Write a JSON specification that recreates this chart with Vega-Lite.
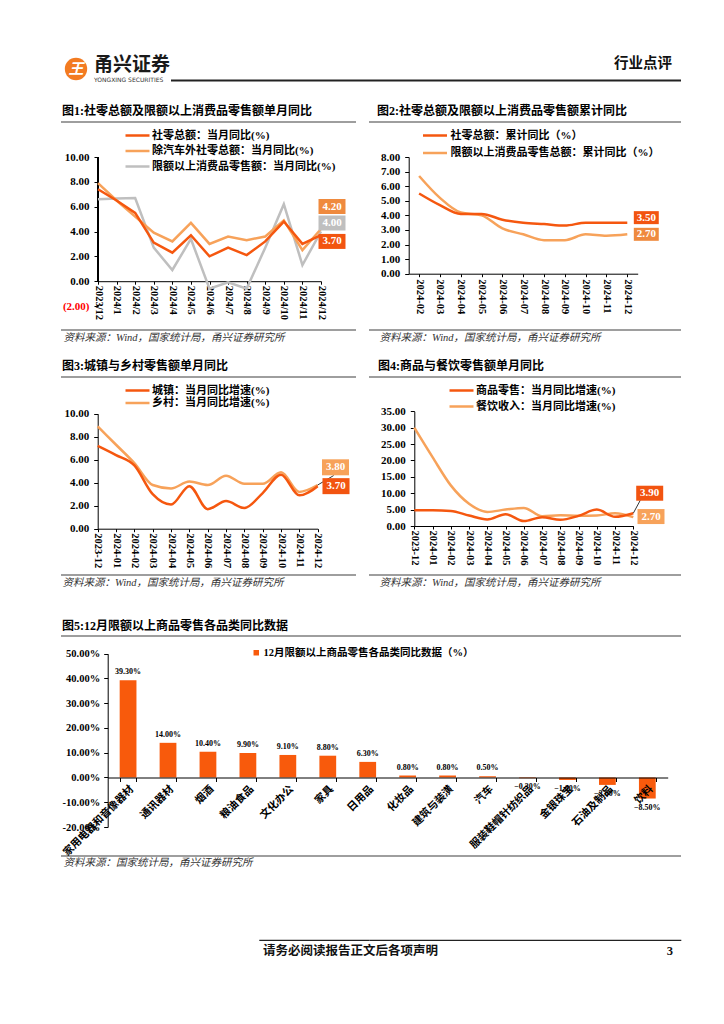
{
"$schema": "https://vega.github.io/schema/vega-lite/v6.json",
"padding": {"left": 60, "top": 50, "right": 20, "bottom": 20},
"background": "white",
"columns": 2,
"align": "each",
"bounds": "flush",
"spacing": {"row": 0, "column": 0},
"resolve": {"scale": {"color": "independent"}, "legend": {"color": "independent"}},
"config": {
  "font": "Liberation Serif, Noto Sans CJK SC",
  "view": {"stroke": null},
  "axis": {"grid": false, "domainColor": "#000", "tickColor": "#000", "labelColor": "#000", "labelFont": "Liberation Serif, Noto Sans CJK SC", "labelFontSize": 11, "labelFontWeight": "bold", "titleFont": "Liberation Serif, Noto Sans CJK SC"},
  "legend": {"labelFont": "Liberation Serif, Noto Sans CJK SC", "labelFontSize": 11, "labelFontWeight": "bold", "labelColor": "#000", "labelLimit": 400},
  "title": {"font": "Liberation Serif, Noto Sans CJK SC", "fontSize": 12, "fontWeight": "bold", "anchor": "start", "frame": "group", "color": "#000"}
},
"datasets": {
  "c1": [
    {"month":"2023/12","series":"限额以上消费品零售额：当月同比(%)","value":6.6},
    {"month":"2024/1","series":"限额以上消费品零售额：当月同比(%)","value":6.65},
    {"month":"2024/2","series":"限额以上消费品零售额：当月同比(%)","value":6.7},
    {"month":"2024/3","series":"限额以上消费品零售额：当月同比(%)","value":2.7},
    {"month":"2024/4","series":"限额以上消费品零售额：当月同比(%)","value":0.9},
    {"month":"2024/5","series":"限额以上消费品零售额：当月同比(%)","value":3.4},
    {"month":"2024/6","series":"限额以上消费品零售额：当月同比(%)","value":-0.6},
    {"month":"2024/7","series":"限额以上消费品零售额：当月同比(%)","value":-0.1},
    {"month":"2024/8","series":"限额以上消费品零售额：当月同比(%)","value":-0.6},
    {"month":"2024/9","series":"限额以上消费品零售额：当月同比(%)","value":2.7},
    {"month":"2024/10","series":"限额以上消费品零售额：当月同比(%)","value":6.2},
    {"month":"2024/11","series":"限额以上消费品零售额：当月同比(%)","value":1.3},
    {"month":"2024/12","series":"限额以上消费品零售额：当月同比(%)","value":4.0},
    {"month":"2023/12","series":"除汽车外社零总额：当月同比(%)","value":7.9},
    {"month":"2024/1","series":"除汽车外社零总额：当月同比(%)","value":6.5},
    {"month":"2024/2","series":"除汽车外社零总额：当月同比(%)","value":5.2},
    {"month":"2024/3","series":"除汽车外社零总额：当月同比(%)","value":3.9},
    {"month":"2024/4","series":"除汽车外社零总额：当月同比(%)","value":3.2},
    {"month":"2024/5","series":"除汽车外社零总额：当月同比(%)","value":4.7},
    {"month":"2024/6","series":"除汽车外社零总额：当月同比(%)","value":3.0},
    {"month":"2024/7","series":"除汽车外社零总额：当月同比(%)","value":3.6},
    {"month":"2024/8","series":"除汽车外社零总额：当月同比(%)","value":3.3},
    {"month":"2024/9","series":"除汽车外社零总额：当月同比(%)","value":3.6},
    {"month":"2024/10","series":"除汽车外社零总额：当月同比(%)","value":4.9},
    {"month":"2024/11","series":"除汽车外社零总额：当月同比(%)","value":2.5},
    {"month":"2024/12","series":"除汽车外社零总额：当月同比(%)","value":4.2},
    {"month":"2023/12","series":"社零总额：当月同比(%)","value":7.4},
    {"month":"2024/1","series":"社零总额：当月同比(%)","value":6.5},
    {"month":"2024/2","series":"社零总额：当月同比(%)","value":5.5},
    {"month":"2024/3","series":"社零总额：当月同比(%)","value":3.1},
    {"month":"2024/4","series":"社零总额：当月同比(%)","value":2.3},
    {"month":"2024/5","series":"社零总额：当月同比(%)","value":3.7},
    {"month":"2024/6","series":"社零总额：当月同比(%)","value":2.0},
    {"month":"2024/7","series":"社零总额：当月同比(%)","value":2.7},
    {"month":"2024/8","series":"社零总额：当月同比(%)","value":2.1},
    {"month":"2024/9","series":"社零总额：当月同比(%)","value":3.2},
    {"month":"2024/10","series":"社零总额：当月同比(%)","value":4.8},
    {"month":"2024/11","series":"社零总额：当月同比(%)","value":3.0},
    {"month":"2024/12","series":"社零总额：当月同比(%)","value":3.7}
  ],
  "c2": [
    {"month":"2024-02","series":"限额以上消费品零售总额：累计同比（%）","value":6.7},
    {"month":"2024-03","series":"限额以上消费品零售总额：累计同比（%）","value":5.2},
    {"month":"2024-04","series":"限额以上消费品零售总额：累计同比（%）","value":4.2},
    {"month":"2024-05","series":"限额以上消费品零售总额：累计同比（%）","value":4.0},
    {"month":"2024-06","series":"限额以上消费品零售总额：累计同比（%）","value":3.1},
    {"month":"2024-07","series":"限额以上消费品零售总额：累计同比（%）","value":2.7},
    {"month":"2024-08","series":"限额以上消费品零售总额：累计同比（%）","value":2.3},
    {"month":"2024-09","series":"限额以上消费品零售总额：累计同比（%）","value":2.3},
    {"month":"2024-10","series":"限额以上消费品零售总额：累计同比（%）","value":2.7},
    {"month":"2024-11","series":"限额以上消费品零售总额：累计同比（%）","value":2.6},
    {"month":"2024-12","series":"限额以上消费品零售总额：累计同比（%）","value":2.7},
    {"month":"2024-02","series":"社零总额：累计同比（%）","value":5.5},
    {"month":"2024-03","series":"社零总额：累计同比（%）","value":4.7},
    {"month":"2024-04","series":"社零总额：累计同比（%）","value":4.1},
    {"month":"2024-05","series":"社零总额：累计同比（%）","value":4.1},
    {"month":"2024-06","series":"社零总额：累计同比（%）","value":3.7},
    {"month":"2024-07","series":"社零总额：累计同比（%）","value":3.5},
    {"month":"2024-08","series":"社零总额：累计同比（%）","value":3.4},
    {"month":"2024-09","series":"社零总额：累计同比（%）","value":3.3},
    {"month":"2024-10","series":"社零总额：累计同比（%）","value":3.5},
    {"month":"2024-11","series":"社零总额：累计同比（%）","value":3.5},
    {"month":"2024-12","series":"社零总额：累计同比（%）","value":3.5}
  ],
  "c3": [
    {"month":"2023-12","series":"乡村：当月同比增速(%)","value":8.9},
    {"month":"2024-01","series":"乡村：当月同比增速(%)","value":7.3},
    {"month":"2024-02","series":"乡村：当月同比增速(%)","value":5.7},
    {"month":"2024-03","series":"乡村：当月同比增速(%)","value":3.8},
    {"month":"2024-04","series":"乡村：当月同比增速(%)","value":3.5},
    {"month":"2024-05","series":"乡村：当月同比增速(%)","value":4.1},
    {"month":"2024-06","series":"乡村：当月同比增速(%)","value":3.8},
    {"month":"2024-07","series":"乡村：当月同比增速(%)","value":4.6},
    {"month":"2024-08","series":"乡村：当月同比增速(%)","value":3.9},
    {"month":"2024-09","series":"乡村：当月同比增速(%)","value":3.9},
    {"month":"2024-10","series":"乡村：当月同比增速(%)","value":4.9},
    {"month":"2024-11","series":"乡村：当月同比增速(%)","value":3.2},
    {"month":"2024-12","series":"乡村：当月同比增速(%)","value":3.8},
    {"month":"2023-12","series":"城镇：当月同比增速(%)","value":7.2},
    {"month":"2024-01","series":"城镇：当月同比增速(%)","value":6.4},
    {"month":"2024-02","series":"城镇：当月同比增速(%)","value":5.5},
    {"month":"2024-03","series":"城镇：当月同比增速(%)","value":3.0},
    {"month":"2024-04","series":"城镇：当月同比增速(%)","value":2.1},
    {"month":"2024-05","series":"城镇：当月同比增速(%)","value":3.7},
    {"month":"2024-06","series":"城镇：当月同比增速(%)","value":1.7},
    {"month":"2024-07","series":"城镇：当月同比增速(%)","value":2.4},
    {"month":"2024-08","series":"城镇：当月同比增速(%)","value":1.8},
    {"month":"2024-09","series":"城镇：当月同比增速(%)","value":3.1},
    {"month":"2024-10","series":"城镇：当月同比增速(%)","value":4.7},
    {"month":"2024-11","series":"城镇：当月同比增速(%)","value":2.9},
    {"month":"2024-12","series":"城镇：当月同比增速(%)","value":3.7}
  ],
  "c4": [
    {"month":"2023-12","series":"餐饮收入：当月同比增速(%)","value":30.0},
    {"month":"2024-01","series":"餐饮收入：当月同比增速(%)","value":21.0},
    {"month":"2024-02","series":"餐饮收入：当月同比增速(%)","value":12.4},
    {"month":"2024-03","series":"餐饮收入：当月同比增速(%)","value":6.8},
    {"month":"2024-04","series":"餐饮收入：当月同比增速(%)","value":4.3},
    {"month":"2024-05","series":"餐饮收入：当月同比增速(%)","value":5.0},
    {"month":"2024-06","series":"餐饮收入：当月同比增速(%)","value":5.5},
    {"month":"2024-07","series":"餐饮收入：当月同比增速(%)","value":3.0},
    {"month":"2024-08","series":"餐饮收入：当月同比增速(%)","value":3.3},
    {"month":"2024-09","series":"餐饮收入：当月同比增速(%)","value":3.1},
    {"month":"2024-10","series":"餐饮收入：当月同比增速(%)","value":3.2},
    {"month":"2024-11","series":"餐饮收入：当月同比增速(%)","value":3.9},
    {"month":"2024-12","series":"餐饮收入：当月同比增速(%)","value":2.7},
    {"month":"2023-12","series":"商品零售：当月同比增速(%)","value":4.8},
    {"month":"2024-01","series":"商品零售：当月同比增速(%)","value":4.8},
    {"month":"2024-02","series":"商品零售：当月同比增速(%)","value":4.6},
    {"month":"2024-03","series":"商品零售：当月同比增速(%)","value":3.2},
    {"month":"2024-04","series":"商品零售：当月同比增速(%)","value":2.0},
    {"month":"2024-05","series":"商品零售：当月同比增速(%)","value":3.6},
    {"month":"2024-06","series":"商品零售：当月同比增速(%)","value":1.5},
    {"month":"2024-07","series":"商品零售：当月同比增速(%)","value":2.7},
    {"month":"2024-08","series":"商品零售：当月同比增速(%)","value":1.9},
    {"month":"2024-09","series":"商品零售：当月同比增速(%)","value":3.1},
    {"month":"2024-10","series":"商品零售：当月同比增速(%)","value":5.0},
    {"month":"2024-11","series":"商品零售：当月同比增速(%)","value":2.8},
    {"month":"2024-12","series":"商品零售：当月同比增速(%)","value":3.9}
  ],
  "c5": [
    {"category":"家用电器和音像器材","yoy":0.393},
    {"category":"通讯器材","yoy":0.14},
    {"category":"烟酒","yoy":0.104},
    {"category":"粮油食品","yoy":0.099},
    {"category":"文化办公","yoy":0.091},
    {"category":"家具","yoy":0.088},
    {"category":"日用品","yoy":0.063},
    {"category":"化妆品","yoy":0.008},
    {"category":"建筑与装潢","yoy":0.008},
    {"category":"汽车","yoy":0.005},
    {"category":"服装鞋帽针纺织品","yoy":-0.003},
    {"category":"金银珠宝","yoy":-0.01},
    {"category":"石油及制品","yoy":-0.03},
    {"category":"饮料","yoy":-0.085}
  ]
},
"concat": [
  {
    "width": 308, "height": 29.5,
    "view": {"stroke": "#222", "strokeWidth": 2, "strokeDash": [0, 337.5, 198, 1000]},
    "data": {"values": [{"brand": "甬兴证券", "en": "YONGXING SECURITIES", "icon": "王"}]},
    "layer": [
      {"mark": {"type": "point", "shape": "circle", "filled": true, "opacity": 1, "color": "#F37B21", "size": 500}, "encoding": {"x": {"value": 15}, "y": {"value": 18}}},
      {"mark": {"type": "text", "color": "white", "fontSize": 15, "fontWeight": "bold", "fontStyle": "italic", "font": "Noto Sans CJK SC", "baseline": "middle", "align": "center"}, "encoding": {"text": {"field": "icon"}, "x": {"value": 15}, "y": {"value": 18}}},
      {"mark": {"type": "text", "color": "#1a1a1a", "fontSize": 19, "fontWeight": "bold", "font": "Noto Sans CJK SC", "baseline": "middle", "align": "left"}, "encoding": {"text": {"field": "brand"}, "x": {"value": 33}, "y": {"value": 14}}},
      {"mark": {"type": "text", "color": "#333", "fontSize": 6, "font": "DejaVu Sans", "baseline": "middle", "align": "left"}, "encoding": {"text": {"field": "en"}, "x": {"value": 33}, "y": {"value": 28.5}}}
    ]
  },
  {
    "width": 312, "height": 29.5,
    "view": {"stroke": "#222", "strokeWidth": 2, "strokeDash": [0, 341.5, 312, 1000]},
    "data": {"values": [{"t": "行业点评"}]},
    "mark": {"type": "text", "align": "right", "baseline": "middle", "fontSize": 14.5, "fontWeight": "bold", "font": "Noto Sans CJK SC", "color": "#111"},
    "encoding": {"text": {"field": "t"}, "x": {"value": 303}, "y": {"value": 13}}
  },
  {"width": 308, "height": 40.5, "data": {"values": []}, "mark": "point"},
  {"width": 312, "height": 40.5, "data": {"values": []}, "mark": "point"},
  {
    "width": 308, "height": 208,
    "view": {"stroke": "#7f7f7f", "strokeWidth": 1.5, "strokeDash": [295, 234, 295, 208]},
    "title": {"text": "图1:社零总额及限额以上消费品零售额单月同比", "offset": 4, "dx": 1},
    "data": {"name": "c1"},
    "encoding": {
      "x": {"field": "month", "type": "ordinal",
        "scale": {"type": "point", "domain": ["2023/12","2024/1","2024/2","2024/3","2024/4","2024/5","2024/6","2024/7","2024/8","2024/9","2024/10","2024/11","2024/12"], "range": [37, 260], "padding": 0},
        "axis": {"offset": -48.8, "labelAngle": 90, "labelFontSize": 10.5, "labelPadding": 1, "tickSize": 3,
          "title": "资料来源：Wind，国家统计局，甬兴证券研究所", "titleX": 2, "titleY": 56, "titleAlign": "left", "titleBaseline": "middle", "titleAngle": 0, "titleFontStyle": "italic", "titleFontWeight": "normal", "titleFontSize": 10.5, "titleColor": "#333"}},
      "y": {"field": "value", "type": "quantitative",
        "scale": {"domain": [-2, 10], "range": [184, 35], "nice": false, "zero": false},
        "axis": {"values": [-2, 0, 2, 4, 6, 8, 10], "offset": -37, "domain": false, "tickSize": 4, "labelPadding": 5, "title": null,
          "labelExpr": "datum.value < 0 ? '(' + format(-datum.value, '.2f') + ')' : format(datum.value, '.2f')",
          "labelColor": {"condition": {"test": "datum.value < 0", "value": "#ff0000"}, "value": "#000000"}}}
    },
    "layer": [
      {"mark": {"type": "rule", "color": "#000", "strokeWidth": 1}, "encoding": {"x": {"datum": "2023/12", "type": "ordinal"}, "y": {"datum": 0, "type": "quantitative"}, "y2": {"datum": 10}}},
      {"mark": {"type": "line", "strokeWidth": 2.5}, "encoding": {"color": {"field": "series", "type": "nominal",
        "scale": {"domain": ["社零总额：当月同比(%)", "除汽车外社零总额：当月同比(%)", "限额以上消费品零售额：当月同比(%)"], "range": ["#F5570F", "#F7A25A", "#BFBFBF"]},
        "legend": {"orient": "none", "legendX": 71, "legendY": 8, "title": null, "symbolType": "M-3,0H3", "symbolSize": 64, "symbolStrokeWidth": 2.5, "rowPadding": 3.5, "labelOffset": 9}}}},
      {"transform": [{"filter": "datum.month === '2024/12' && datum.series === '除汽车外社零总额：当月同比(%)'"}], "mark": {"type": "point", "shape": "M-1.8,-1H1.8V1H-1.8Z", "size": 225, "filled": true, "opacity": 1, "color": "#EF8A3E", "xOffset": 11, "yOffset": -22.5}},
      {"transform": [{"filter": "datum.month === '2024/12' && datum.series === '除汽车外社零总额：当月同比(%)'"}], "mark": {"type": "text", "color": "white", "fontSize": 11, "fontWeight": "bold", "baseline": "middle", "xOffset": 11, "yOffset": -22.5}, "encoding": {"text": {"field": "value", "format": ".2f"}}},
      {"transform": [{"filter": "datum.month === '2024/12' && datum.series === '限额以上消费品零售额：当月同比(%)'"}], "mark": {"type": "point", "shape": "M-1.8,-1H1.8V1H-1.8Z", "size": 225, "filled": true, "opacity": 1, "color": "#BFBFBF", "xOffset": 11, "yOffset": -8.5}},
      {"transform": [{"filter": "datum.month === '2024/12' && datum.series === '限额以上消费品零售额：当月同比(%)'"}], "mark": {"type": "text", "color": "white", "fontSize": 11, "fontWeight": "bold", "baseline": "middle", "xOffset": 11, "yOffset": -8.5}, "encoding": {"text": {"field": "value", "format": ".2f"}}},
      {"transform": [{"filter": "datum.month === '2024/12' && datum.series === '社零总额：当月同比(%)'"}], "mark": {"type": "point", "shape": "M-1.8,-1H1.8V1H-1.8Z", "size": 225, "filled": true, "opacity": 1, "color": "#F25410", "xOffset": 11, "yOffset": 6.2}},
      {"transform": [{"filter": "datum.month === '2024/12' && datum.series === '社零总额：当月同比(%)'"}], "mark": {"type": "text", "color": "white", "fontSize": 11, "fontWeight": "bold", "baseline": "middle", "xOffset": 11, "yOffset": 6.2}, "encoding": {"text": {"field": "value", "format": ".2f"}}}
    ]
  },
  {
    "width": 312, "height": 208,
    "view": {"stroke": "#7f7f7f", "strokeWidth": 1.5, "strokeDash": [312, 208, 312, 208]},
    "title": {"text": "图2:社零总额及限额以上消费品零售额累计同比", "offset": 4, "dx": 8},
    "data": {"name": "c2"},
    "encoding": {
      "x": {"field": "month", "type": "ordinal",
        "scale": {"type": "point", "domain": ["2024-02","2024-03","2024-04","2024-05","2024-06","2024-07","2024-08","2024-09","2024-10","2024-11","2024-12"], "range": [39.7, 268.7], "padding": 0.5},
        "axis": {"offset": -56.3, "labelAngle": 90, "labelFontSize": 10.5, "labelPadding": 2, "tickSize": 3,
          "title": "资料来源：Wind，国家统计局，甬兴证券研究所", "titleX": 10, "titleY": 63.3, "titleAlign": "left", "titleBaseline": "middle", "titleAngle": 0, "titleFontStyle": "italic", "titleFontWeight": "normal", "titleFontSize": 10.5, "titleColor": "#333"}},
      "y": {"field": "value", "type": "quantitative",
        "scale": {"domain": [0, 8], "range": [151.7, 35], "nice": false, "zero": false},
        "axis": {"values": [0, 1, 2, 3, 4, 5, 6, 7, 8], "format": ".2f", "offset": -39.7, "tickSize": 4, "labelPadding": 5, "title": null}}
    },
    "layer": [
      {"mark": {"type": "line", "strokeWidth": 2.5, "interpolate": "monotone"}, "encoding": {"color": {"field": "series", "type": "nominal",
        "scale": {"domain": ["社零总额：累计同比（%）", "限额以上消费品零售总额：累计同比（%）"], "range": ["#F5570F", "#F7A25A"]},
        "legend": {"orient": "none", "legendX": 60.5, "legendY": 8, "title": null, "symbolType": "M-3,0H3", "symbolSize": 64, "symbolStrokeWidth": 2.5, "rowPadding": 5.5, "labelOffset": 10}}}},
      {"transform": [{"filter": "datum.month === '2024-12' && datum.series === '社零总额：累计同比（%）'"}], "mark": {"type": "point", "shape": "M-1.92,-1H1.92V1H-1.92Z", "size": 169, "filled": true, "opacity": 1, "color": "#F25410", "xOffset": 19, "yOffset": -5}},
      {"transform": [{"filter": "datum.month === '2024-12' && datum.series === '社零总额：累计同比（%）'"}], "mark": {"type": "text", "color": "white", "fontSize": 11, "fontWeight": "bold", "baseline": "middle", "xOffset": 19, "yOffset": -5}, "encoding": {"text": {"field": "value", "format": ".2f"}}},
      {"transform": [{"filter": "datum.month === '2024-12' && datum.series === '限额以上消费品零售总额：累计同比（%）'"}], "mark": {"type": "point", "shape": "M-1.92,-1H1.92V1H-1.92Z", "size": 169, "filled": true, "opacity": 1, "color": "#EF8A3E", "xOffset": 19, "yOffset": 0}},
      {"transform": [{"filter": "datum.month === '2024-12' && datum.series === '限额以上消费品零售总额：累计同比（%）'"}], "mark": {"type": "text", "color": "white", "fontSize": 11, "fontWeight": "bold", "baseline": "middle", "xOffset": 19, "yOffset": 0}, "encoding": {"text": {"field": "value", "format": ".2f"}}}
    ]
  },
  {"width": 308, "height": 47, "data": {"values": []}, "mark": "point"},
  {"width": 312, "height": 47, "data": {"values": []}, "mark": "point"},
  {
    "width": 308, "height": 198,
    "view": {"stroke": "#7f7f7f", "strokeWidth": 1.5, "strokeDash": [295, 224, 295, 198]},
    "title": {"text": "图3:城镇与乡村零售额单月同比", "offset": 4, "dx": 1},
    "data": {"name": "c3"},
    "encoding": {
      "x": {"field": "month", "type": "ordinal",
        "scale": {"type": "point", "domain": ["2023-12","2024-01","2024-02","2024-03","2024-04","2024-05","2024-06","2024-07","2024-08","2024-09","2024-10","2024-11","2024-12"], "range": [36.7, 256.7], "padding": 0},
        "axis": {"offset": -46.3, "labelAngle": 90, "labelFontSize": 10.5, "labelPadding": 1, "tickSize": 3,
          "title": "资料来源：Wind，国家统计局，甬兴证券研究所", "titleX": 1, "titleY": 53.3, "titleAlign": "left", "titleBaseline": "middle", "titleAngle": 0, "titleFontStyle": "italic", "titleFontWeight": "normal", "titleFontSize": 10.5, "titleColor": "#333"}},
      "y": {"field": "value", "type": "quantitative",
        "scale": {"domain": [0, 10], "range": [151.7, 36.7], "nice": false, "zero": false},
        "axis": {"values": [0, 2, 4, 6, 8, 10], "format": ".2f", "offset": -36.7, "tickSize": 4, "labelPadding": 5, "title": null}}
    },
    "layer": [
      {"mark": {"type": "line", "strokeWidth": 2.5, "interpolate": "monotone"}, "encoding": {"color": {"field": "series", "type": "nominal",
        "scale": {"domain": ["城镇：当月同比增速(%)", "乡村：当月同比增速(%)"], "range": ["#F5570F", "#F7A25A"]},
        "legend": {"orient": "none", "legendX": 71, "legendY": 8, "title": null, "symbolType": "M-3,0H3", "symbolSize": 64, "symbolStrokeWidth": 2.5, "rowPadding": 0.5, "labelOffset": 9}}}},
      {"transform": [{"filter": "datum.month === '2024-12' && datum.series === '乡村：当月同比增速(%)'"}], "mark": {"type": "rule", "color": "#000", "strokeWidth": 0.8, "x2Offset": 16, "y2Offset": -9.5}, "encoding": {"x2": {"field": "month"}, "y2": {"field": "value"}}},
      {"transform": [{"filter": "datum.month === '2024-12' && datum.series === '乡村：当月同比增速(%)'"}], "mark": {"type": "point", "shape": "M-1.69,-1H1.69V1H-1.69Z", "size": 256, "filled": true, "opacity": 1, "color": "#F7A25A", "xOffset": 17.8, "yOffset": -17.7}},
      {"transform": [{"filter": "datum.month === '2024-12' && datum.series === '乡村：当月同比增速(%)'"}], "mark": {"type": "text", "color": "white", "fontSize": 11, "fontWeight": "bold", "baseline": "middle", "xOffset": 17.8, "yOffset": -17.7}, "encoding": {"text": {"field": "value", "format": ".2f"}}},
      {"transform": [{"filter": "datum.month === '2024-12' && datum.series === '城镇：当月同比增速(%)'"}], "mark": {"type": "point", "shape": "M-1.69,-1H1.69V1H-1.69Z", "size": 256, "filled": true, "opacity": 1, "color": "#F25410", "xOffset": 18.3, "yOffset": 0}},
      {"transform": [{"filter": "datum.month === '2024-12' && datum.series === '城镇：当月同比增速(%)'"}], "mark": {"type": "text", "color": "white", "fontSize": 11, "fontWeight": "bold", "baseline": "middle", "xOffset": 18.3, "yOffset": 0}, "encoding": {"text": {"field": "value", "format": ".2f"}}}
    ]
  },
  {
    "width": 312, "height": 198,
    "view": {"stroke": "#7f7f7f", "strokeWidth": 1.5, "strokeDash": [312, 198, 312, 198]},
    "title": {"text": "图4:商品与餐饮零售额单月同比", "offset": 4, "dx": 9},
    "data": {"name": "c4"},
    "encoding": {
      "x": {"field": "month", "type": "ordinal",
        "scale": {"type": "point", "domain": ["2023-12","2024-01","2024-02","2024-03","2024-04","2024-05","2024-06","2024-07","2024-08","2024-09","2024-10","2024-11","2024-12"], "range": [45.3, 264.3], "padding": 0},
        "axis": {"offset": -49, "labelAngle": 90, "labelFontSize": 10.5, "labelPadding": 1, "tickSize": 3,
          "title": "资料来源：Wind，国家统计局，甬兴证券研究所", "titleX": 10, "titleY": 56, "titleAlign": "left", "titleBaseline": "middle", "titleAngle": 0, "titleFontStyle": "italic", "titleFontWeight": "normal", "titleFontSize": 10.5, "titleColor": "#333"}},
      "y": {"field": "value", "type": "quantitative",
        "scale": {"domain": [0, 35], "range": [149, 34.3], "nice": false, "zero": false},
        "axis": {"values": [0, 5, 10, 15, 20, 25, 30, 35], "format": ".2f", "offset": -45.3, "tickSize": 4, "labelPadding": 5, "title": null}}
    },
    "layer": [
      {"mark": {"type": "line", "strokeWidth": 2.5, "interpolate": "monotone"}, "encoding": {"color": {"field": "series", "type": "nominal",
        "scale": {"domain": ["商品零售：当月同比增速(%)", "餐饮收入：当月同比增速(%)"], "range": ["#F5570F", "#F7A25A"]},
        "legend": {"orient": "none", "legendX": 87, "legendY": 8, "title": null, "symbolType": "M-3,0H3", "symbolSize": 64, "symbolStrokeWidth": 2.5, "rowPadding": 4, "labelOffset": 9}}}},
      {"transform": [{"filter": "datum.month === '2024-12' && datum.series === '商品零售：当月同比增速(%)'"}], "mark": {"type": "rule", "color": "#000", "strokeWidth": 0.8, "x2Offset": 7, "y2Offset": -13}, "encoding": {"x2": {"field": "month"}, "y2": {"field": "value"}}},
      {"transform": [{"filter": "datum.month === '2024-12' && datum.series === '商品零售：当月同比增速(%)'"}], "mark": {"type": "point", "shape": "M-1.8,-1H1.8V1H-1.8Z", "size": 225, "filled": true, "opacity": 1, "color": "#F25410", "xOffset": 16.4, "yOffset": -20}},
      {"transform": [{"filter": "datum.month === '2024-12' && datum.series === '商品零售：当月同比增速(%)'"}], "mark": {"type": "text", "color": "white", "fontSize": 11, "fontWeight": "bold", "baseline": "middle", "xOffset": 16.4, "yOffset": -20}, "encoding": {"text": {"field": "value", "format": ".2f"}}},
      {"transform": [{"filter": "datum.month === '2024-12' && datum.series === '餐饮收入：当月同比增速(%)'"}], "mark": {"type": "point", "shape": "M-1.8,-1H1.8V1H-1.8Z", "size": 225, "filled": true, "opacity": 1, "color": "#F7A25A", "xOffset": 17.7, "yOffset": -0.6}},
      {"transform": [{"filter": "datum.month === '2024-12' && datum.series === '餐饮收入：当月同比增速(%)'"}], "mark": {"type": "text", "color": "white", "fontSize": 11, "fontWeight": "bold", "baseline": "middle", "xOffset": 17.7, "yOffset": -0.6}, "encoding": {"text": {"field": "value", "format": ".2f"}}}
    ]
  },
  {"width": 308, "height": 61, "data": {"values": []}, "mark": "point"},
  {"width": 312, "height": 61, "data": {"values": []}, "mark": "point"},
  {
    "width": 308, "height": 220,
    "view": {"stroke": "#7f7f7f", "strokeWidth": 1.5, "strokeDash": [308, 220, 308, 220]},
    "title": {"text": "图5:12月限额以上商品零售各品类同比数据", "offset": 3, "dx": 1},
    "data": {"name": "c5"},
    "encoding": {
      "x": {"field": "category", "type": "nominal",
        "scale": {"type": "band", "domain": ["家用电器和音像器材","通讯器材","烟酒","粮油食品","文化办公","家具","日用品","化妆品","建筑与装潢","汽车","服装鞋帽针纺织品","金银珠宝","石油及制品","饮料"], "range": [46.7, 606.7], "paddingInner": 0.58, "paddingOuter": 0.3},
        "axis": {"offset": -78.5, "zindex": 1, "labelAngle": -45, "labelFontSize": 10.5, "labelFont": "Noto Sans CJK SC", "labelFontWeight": "bold", "tickBand": "extent", "tickSize": 4, "labelPadding": 2,
          "title": "资料来源：国家统计局，甬兴证券研究所", "titleX": 2, "titleY": 85, "titleAlign": "left", "titleBaseline": "middle", "titleAngle": 0, "titleFontStyle": "italic", "titleFontWeight": "normal", "titleFontSize": 10.5, "titleColor": "#333"}},
      "y": {"field": "yoy", "type": "quantitative",
        "scale": {"domain": [-0.2, 0.5], "range": [191, 17.7], "nice": false},
        "axis": {"values": [-0.2, -0.1, 0, 0.1, 0.2, 0.3, 0.4, 0.5], "labelExpr": "replace(format(datum.value, '.2%'), '\u2212', '-')", "offset": -46.7, "tickSize": 4, "labelPadding": 4, "labelFontSize": 10.5, "title": null}}
    },
    "layer": [
      {"mark": {"type": "bar", "color": "#F85A0C"}, "encoding": {"y2": {"datum": 0},
        "color": {"datum": "12月限额以上商品零售各品类同比数据（%）", "scale": {"range": ["#F85A0C"]},
          "legend": {"orient": "none", "legendX": 190, "legendY": 11.5, "title": null, "symbolType": "square", "symbolSize": 30, "symbolStrokeWidth": 0, "labelFontSize": 10.5, "labelOffset": 2}}}},
      {"transform": [{"filter": "datum.yoy >= 0"}], "mark": {"type": "text", "dy": -8, "fontSize": 8, "fontWeight": "bold", "color": "#000"}, "encoding": {"text": {"field": "yoy", "format": ".2%"}}},
      {"transform": [{"filter": "datum.yoy < 0"}], "mark": {"type": "text", "dy": 9, "fontSize": 8, "fontWeight": "bold", "color": "#000"}, "encoding": {"text": {"field": "yoy", "format": ".2%"}}}
    ]
  },
  {"width": 312, "height": 220, "view": {"stroke": "#7f7f7f", "strokeWidth": 1.5, "strokeDash": [312, 220, 312, 220]}, "data": {"values": []}, "mark": "point"},
  {
    "width": 308, "height": 84,
    "view": {"stroke": "#222", "strokeWidth": 1.2, "strokeDash": [0, 392, 110, 1000]},
    "data": {"values": [{"t": "请务必阅读报告正文后各项声明"}]},
    "mark": {"type": "text", "align": "left", "baseline": "middle", "fontSize": 12.5, "fontWeight": "bold", "font": "Noto Sans CJK SC", "color": "#111"},
    "encoding": {"text": {"field": "t"}, "x": {"value": 202}, "y": {"value": 95}}
  },
  {
    "width": 312, "height": 84,
    "view": {"stroke": "#222", "strokeWidth": 1.2, "strokeDash": [0, 396, 312, 1000]},
    "data": {"values": [{"p": "3"}]},
    "mark": {"type": "text", "align": "right", "baseline": "middle", "fontSize": 12.5, "fontWeight": "bold", "color": "#111"},
    "encoding": {"text": {"field": "p"}, "x": {"value": 304}, "y": {"value": 95}}
  }
]
}
